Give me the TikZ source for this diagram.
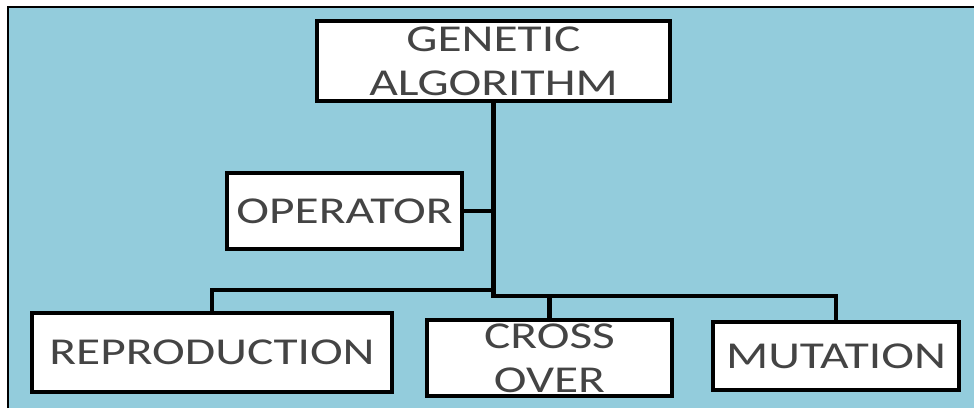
\documentclass[tikz,border=0pt]{standalone}
\usepackage{fontspec}
\setmainfont[FakeStretch=1.3]{Carlito}
\definecolor{bgblue}{RGB}{147,204,220}
\definecolor{txtgray}{RGB}{68,68,68}
\tikzset{
  box/.style={draw=black, fill=white, line width=4pt, inner sep=0pt, text=txtgray,
    align=center, font=\fontsize{38}{44}\selectfont},
  conn/.style={draw=black, line width=4.5pt, line cap=rect},
  thinconn/.style={draw=black, line width=3.5pt, line cap=rect}
}
\begin{document}
\begin{tikzpicture}[x=1pt,y=-1pt]
\useasboundingbox (0,0) rectangle (974,408);
\fill[bgblue] (8,7) rectangle (974,408);
\draw[black, line width=2.5pt] (8,408) -- (8,7) -- (974,7);

\node[box, minimum width=353pt, minimum height=80pt] (g) at (493.5,61) {GENETIC\\ALGORITHM};
\node[box, minimum width=235pt, minimum height=76pt] (op) at (344.5,211) {OPERATOR};
\node[box, minimum width=360pt, minimum height=79pt] (r) at (212,352.5) {REPRODUCTION};
\node[box, minimum width=245pt, minimum height=76pt] (c) at (549.5,358) {CROSS\\OVER};
\node[box, minimum width=246pt, minimum height=68pt] (m) at (836,356) {MUTATION};

\coordinate (j1) at (493.5,290);
\coordinate (j2) at (493.5,296);
\coordinate (j3) at (549.5,296);

\draw[conn] (g.south) -- (j2) -- (j3) -- (c.north);
\draw[conn] (op.east) -- (op.east -| g.south);
\draw[thinconn] (j1) -| (r.north);
\draw[thinconn] (j3) -| (m.north);
\end{tikzpicture}
\end{document}
